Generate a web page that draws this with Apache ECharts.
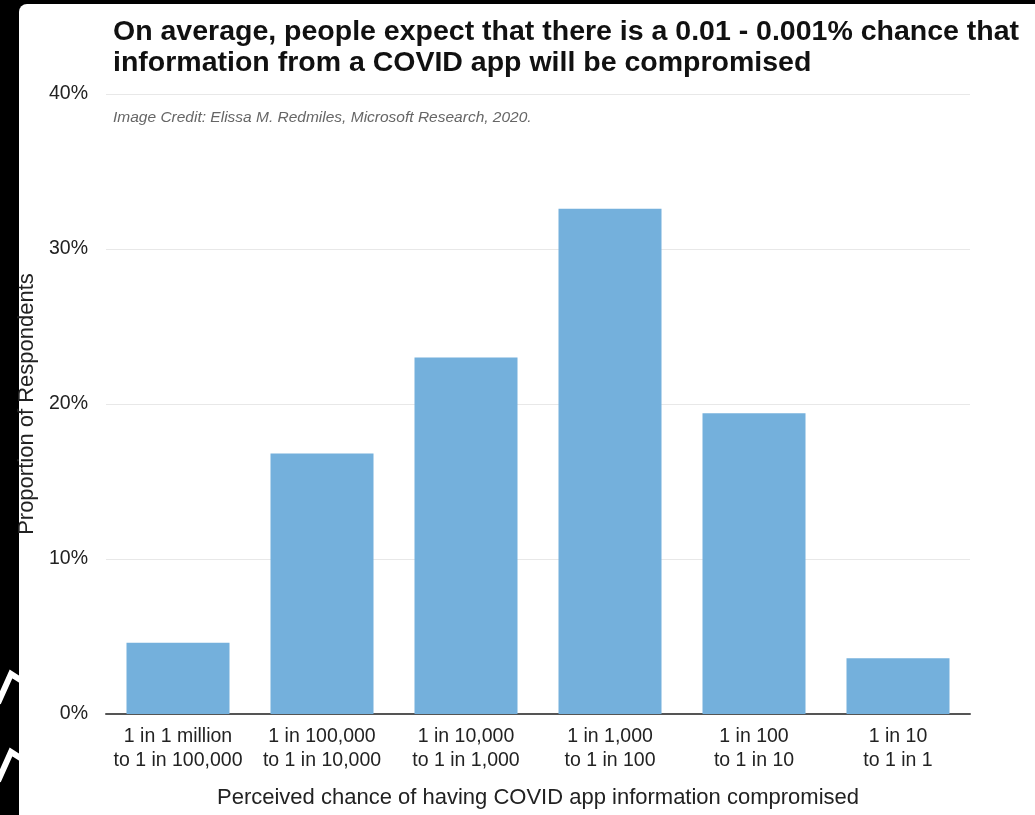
<!DOCTYPE html>
<html>
<head>
<meta charset="utf-8">
<script src="https://cdn.jsdelivr.net/npm/echarts@6/dist/echarts.min.js"></script>
<style>
html,body{margin:0;padding:0;background:#000;}
#chart{width:1035px;height:815px;}
</style>
</head>
<body>
<div id="chart"></div>
<script>
const categories = [
  "1 in 1 million\nto 1 in 100,000",
  "1 in 100,000\nto 1 in 10,000",
  "1 in 10,000\nto 1 in 1,000",
  "1 in 1,000\nto 1 in 100",
  "1 in 100\nto 1 in 10",
  "1 in 10\nto 1 in 1"
];
const proportions = [4.6, 16.8, 23.0, 32.6, 19.4, 3.6];
const yTicks = [0, 10, 20, 30, 40];
const titleText = "On average, people expect that there is a 0.01 - 0.001% chance that\ninformation from a COVID app will be compromised";
const creditText = "Image Credit: Elissa M. Redmiles, Microsoft Research, 2020.";
const yAxisName = "Proportion of Respondents";
const xAxisName = "Perceived chance of having COVID app information compromised";

const FONT = "Liberation Sans, Arial, Helvetica, sans-serif";
const chart = echarts.init(document.getElementById('chart'), null, {renderer: 'canvas'});
chart.setOption({
  backgroundColor: '#000',
  animation: false,
  textStyle: {fontFamily: FONT},
  graphic: [
    {type: 'rect', z: -10, silent: true, shape: {x: 19, y: 4, width: 1016, height: 811, r: [8, 0, 0, 0]}, style: {fill: '#fff'}},
    {type: 'polyline', z: -9, silent: true, shape: {points: [[-2, 703], [11, 674], [22, 681]]}, style: {stroke: '#fff', lineWidth: 6, fill: null}},
    {type: 'polyline', z: -9, silent: true, shape: {points: [[-2, 781], [11, 752], [22, 759]]}, style: {stroke: '#fff', lineWidth: 6, fill: null}}
  ],
  title: [
    {
      text: titleText,
      left: 113, top: 17, padding: 0,
      textStyle: {fontFamily: FONT, fontSize: 28.5, fontWeight: 'bold', color: '#111', lineHeight: 31}
    },
    {
      text: creditText,
      left: 113, top: 110, padding: 0,
      textStyle: {fontFamily: FONT, fontSize: 15.5, fontStyle: 'italic', fontWeight: 'normal', color: '#666'}
    }
  ],
  grid: {left: 106, right: 65, top: 94, bottom: 101, containLabel: false},
  xAxis: {
    type: 'category',
    data: categories,
    name: xAxisName,
    nameLocation: 'middle',
    nameGap: 73,
    nameTextStyle: {fontFamily: FONT, fontSize: 22, color: '#222', verticalAlign: 'top'},
    axisLine: {lineStyle: {color: '#555', width: 2}},
    axisTick: {show: false},
    axisLabel: {fontFamily: FONT, fontSize: 19.5, color: '#222', lineHeight: 24, margin: 11, interval: 0}
  },
  yAxis: {
    type: 'value',
    min: 0, max: 40, interval: 10,
    name: yAxisName,
    nameLocation: 'middle',
    nameGap: 67,
    nameTextStyle: {fontFamily: FONT, fontSize: 22, color: '#222'},
    axisLine: {show: false},
    axisTick: {show: false},
    splitLine: {lineStyle: {color: '#e8e8e8', width: 1}},
    axisLabel: {fontFamily: FONT, fontSize: 19.5, color: '#222', margin: 18, formatter: v => yTicks.includes(v) ? v + '%' : ''}
  },
  series: [{
    type: 'bar',
    data: proportions,
    barWidth: 103,
    itemStyle: {color: '#74b0dc'},
    silent: true
  }]
});
</script>
</body>
</html>
